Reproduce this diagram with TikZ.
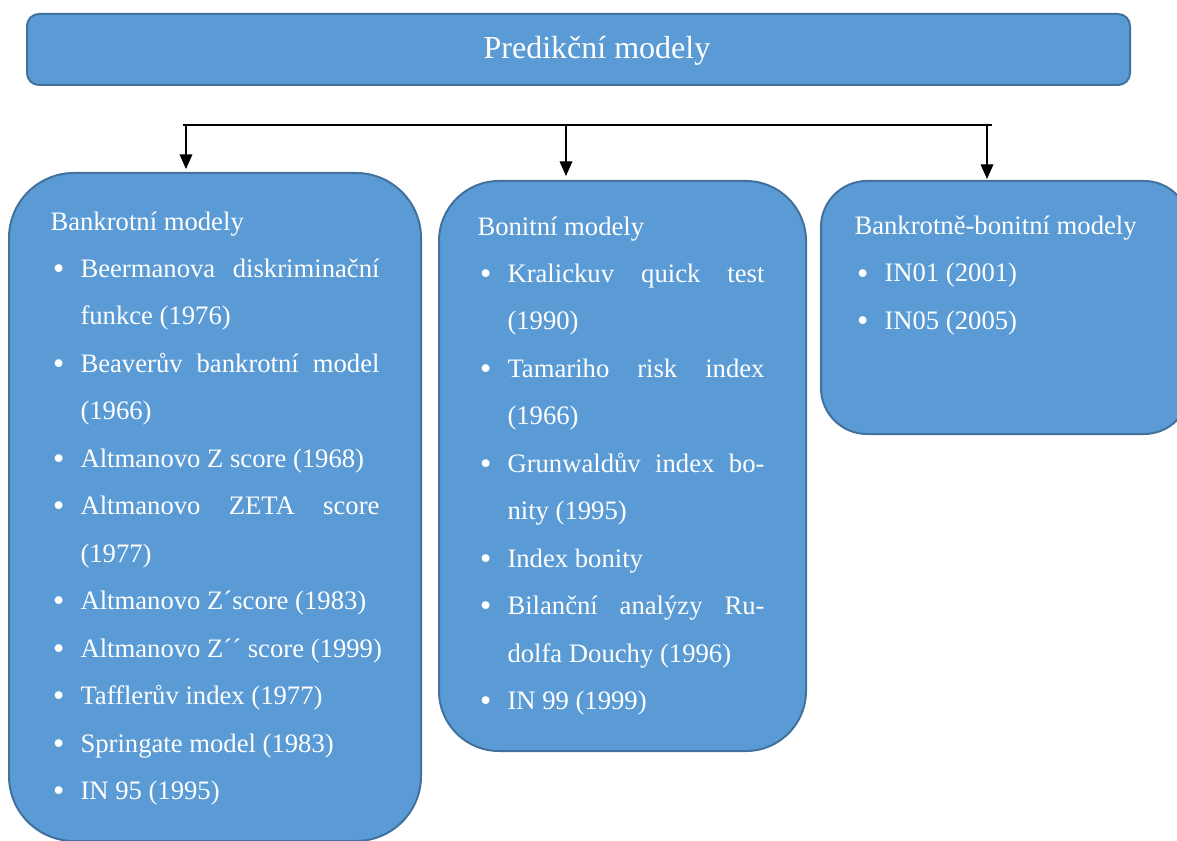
\documentclass[tikz,border=0pt]{standalone}
\usepackage{fontspec}
\setmainfont{Liberation Serif}
\newfontfamily\odrfont{DejaVu Sans}
\usetikzlibrary{arrows.meta}

\definecolor{modra}{HTML}{5B9BD5}
\definecolor{okraj}{HTML}{41719C}

\newcommand{\odr}{\makebox[22.5pt][l]{\hspace{0.2pt}\raisebox{-0.8pt}{\odrfont •}}}
\newcommand{\pokr}{\hspace*{22.5pt}}
\newcommand{\zarov}[2]{\makebox[#1][s]{#2}}

\tikzset{every picture/.style={line width=0.75pt},
  skupina/.style={draw=okraj, line width=1.5pt, fill=modra, inner sep=0pt},
  seznam/.style={text=white, inner sep=0pt, anchor=north west, align=left,
    font=\fontsize{20pt}{35.6pt}\selectfont},
  sipka/.style={line width=1pt, -{Triangle[length=11pt,width=9.5pt]}}}

\begin{document}
\begin{tikzpicture}[x=0.75pt,y=0.75pt,yscale=-1,xscale=1]
\clip (0,0) rectangle (1177,841);

%Shape: Rounded Rect [id:predikce]
\node[skupina, rounded corners=9pt, minimum width=827.25pt, minimum height=53.25pt] (predikce) at (578.5,49.5) {};
% Text Node
\node[text=white, anchor=base, font=\fontsize{24pt}{28pt}\selectfont] (predikceText) at (597,59) {Predikční modely};

%Shape: Rounded Rect [id:bankrot]
\node[skupina, rounded corners=48.75pt, minimum width=309pt, minimum height=501pt] (bankrot) at (215,507) {};
%Shape: Rounded Rect [id:bonit]
\node[skupina, rounded corners=45pt, minimum width=275.25pt, minimum height=427.5pt] (bonit) at (622.5,466) {};
%Shape: Rounded Rect [id:bankbon]
\node[skupina, rounded corners=34.5pt, minimum width=276.75pt, minimum height=189.75pt] (bankbon) at (1005.5,307.5) {};

%Straight Lines [id:vetev]
\coordinate (vetevL) at (183,125);
\coordinate (vetevP) at (992,125);
\draw[line width=1pt] (vetevL) -- (vetevP);
\coordinate (odbA) at (186,125);
\coordinate (odbB) at (566,125);
\coordinate (odbC) at (987,125);
\draw[sipka, shorten >=2.25pt] (odbA) -- (odbA |- bankrot.north);
\draw[sipka, shorten >=3pt] (odbB) -- (odbB |- bonit.north);
\draw[sipka, shorten >=0.75pt] (odbC) -- (odbC |- bankbon.north);

% Text Node
\node[seznam] (bankrotText) at (50,196.3) {\strut Bankrotní modely\\
\odr\zarov{224.25pt}{Beermanova diskriminační}\\
\pokr funkce (1976)\\
\odr\zarov{224.25pt}{Beaverův bankrotní model}\\
\pokr (1966)\\
\odr Altmanovo Z score (1968)\\
\odr\zarov{224.25pt}{Altmanovo ZETA score}\\
\pokr (1977)\\
\odr Altmanovo Z´score (1983)\\
\odr Altmanovo Z´´ score (1999)\\
\odr Tafflerův index (1977)\\
\odr Springate model (1983)\\
\odr IN 95 (1995)};
% Text Node
\node[seznam] (bonitText) at (477,201.3) {\strut Bonitní modely\\
\odr\zarov{192.75pt}{Kralickuv quick test}\\
\pokr (1990)\\
\odr\zarov{192.75pt}{Tamariho risk index}\\
\pokr (1966)\\
\odr\zarov{192.75pt}{Grunwaldův index bo-}\\
\pokr nity (1995)\\
\odr Index bonity\\
\odr\zarov{192.75pt}{Bilanční analýzy Ru-}\\
\pokr dolfa Douchy (1996)\\
\odr IN 99 (1999)};
% Text Node
\node[seznam] (bankbonText) at (854,200.8) {\strut Bankrotně-bonitní modely\\
\odr IN01 (2001)\\
\odr IN05 (2005)};

\end{tikzpicture}
\end{document}
